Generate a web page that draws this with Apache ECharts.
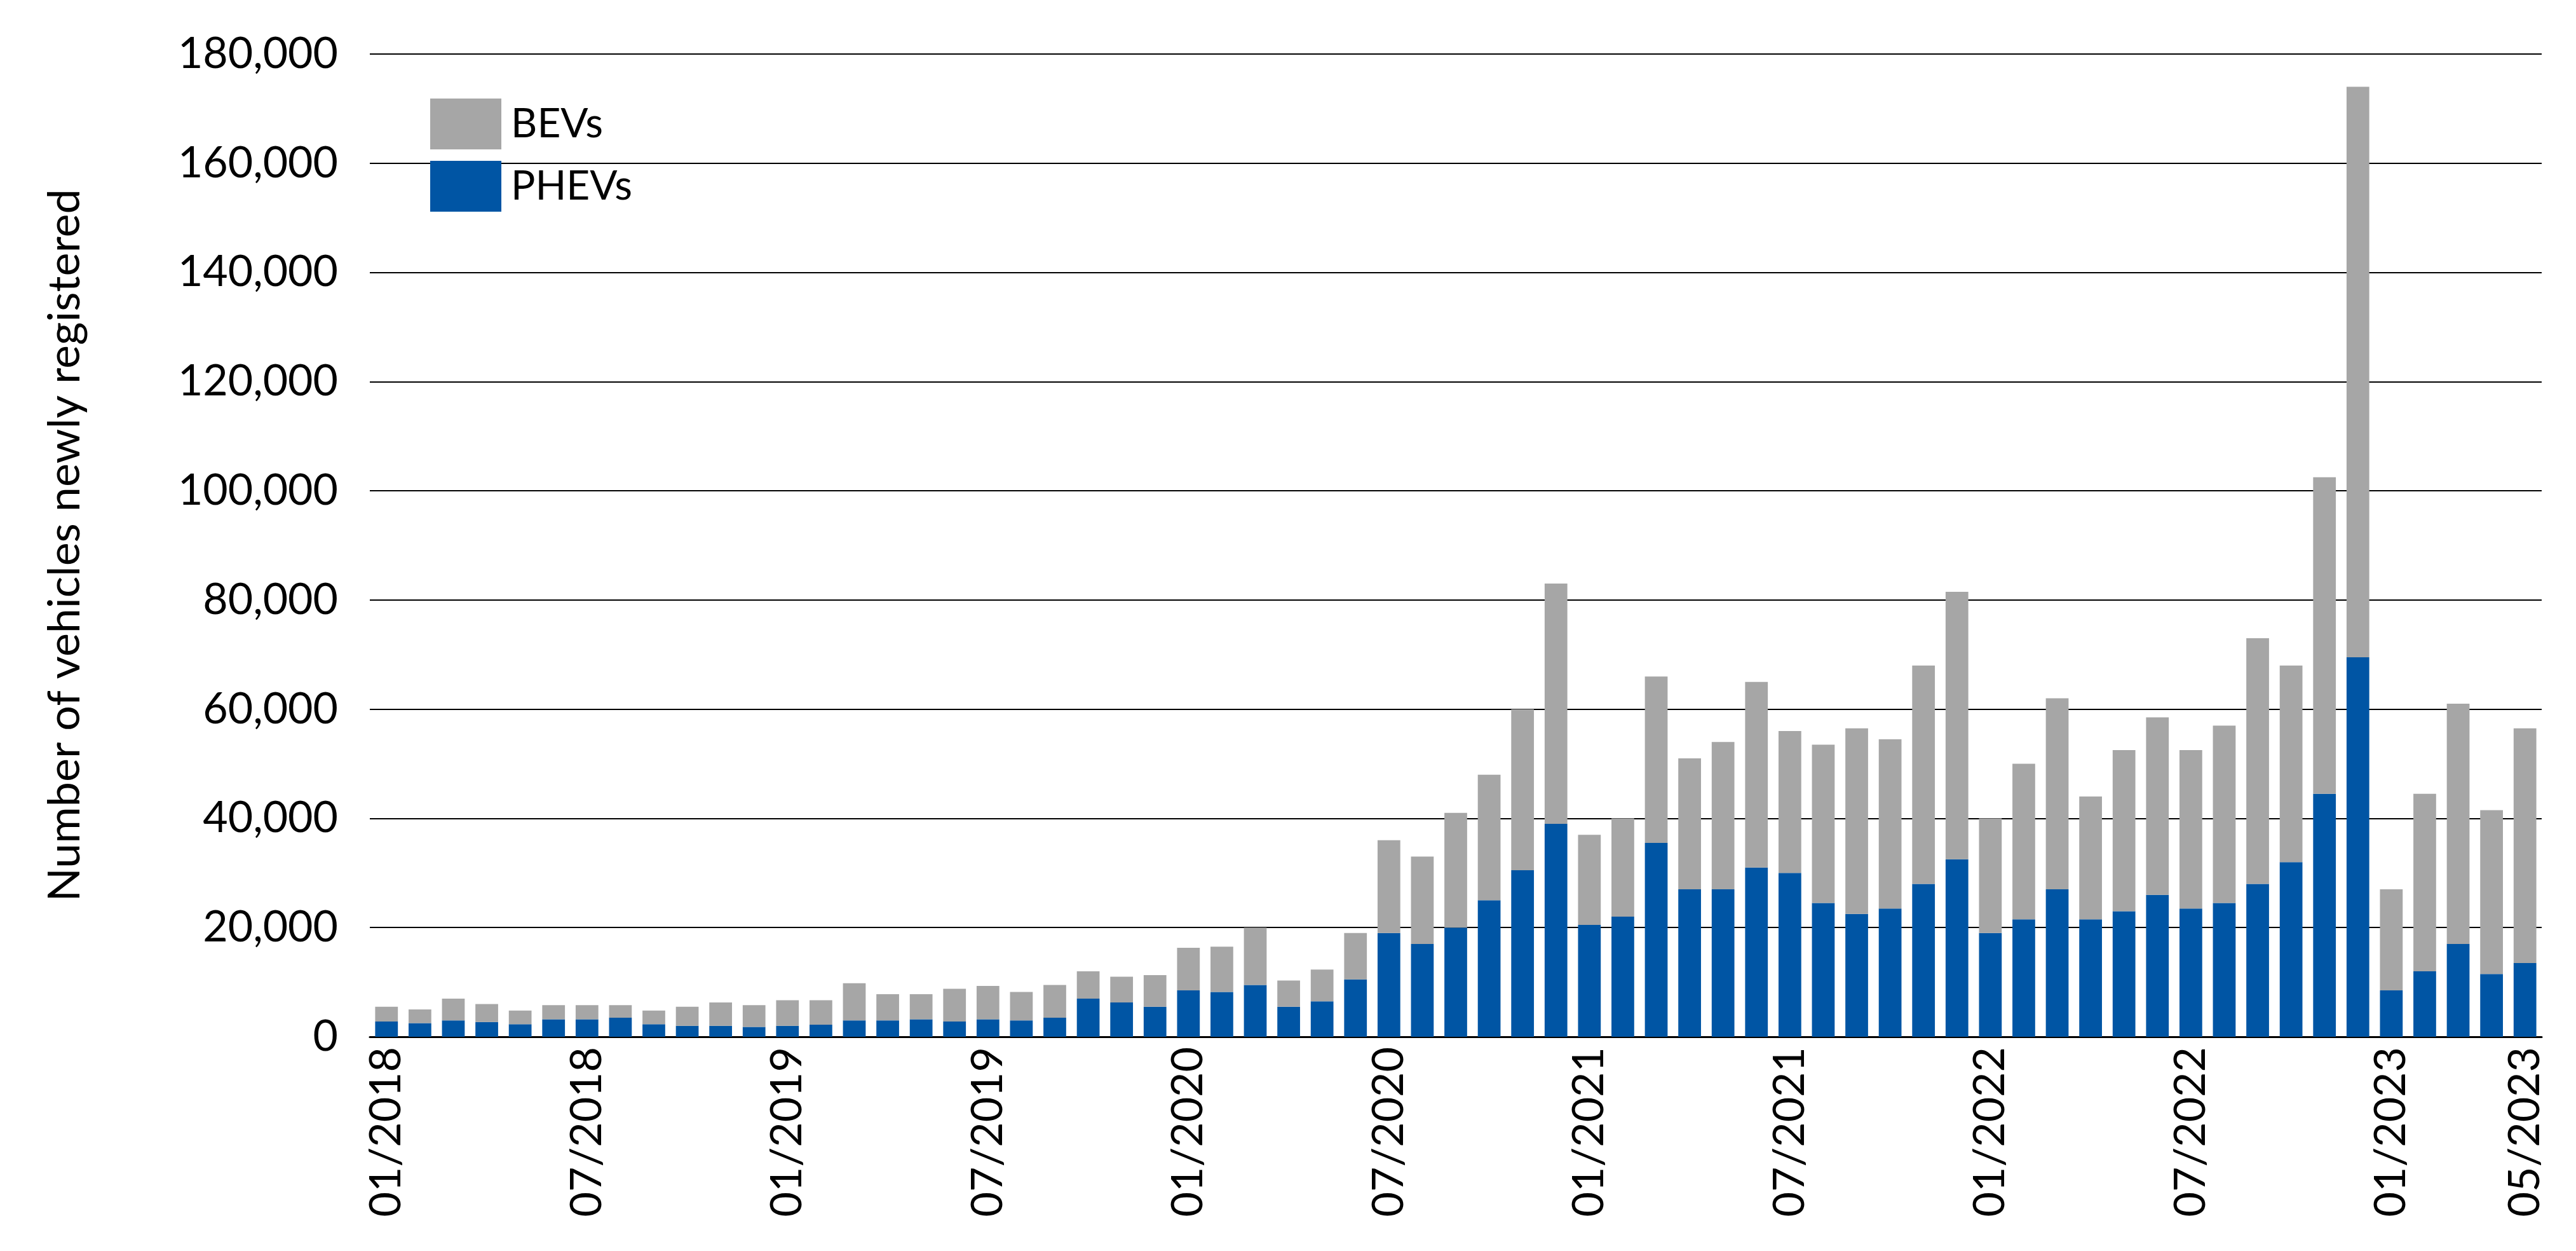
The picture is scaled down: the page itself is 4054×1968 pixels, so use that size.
<!DOCTYPE html>
<html>
<head>
<meta charset="utf-8">
<script src="https://cdn.jsdelivr.net/npm/echarts@6/dist/echarts.min.js"></script>
<style>html,body{margin:0;background:#fff;}#chart{width:4054px;height:1968px;}</style>
</head>
<body>
<div id="chart"></div>
<script>
// monthly registrations 01/2018 - 05/2023
var months = [];
for (var y = 2018; y <= 2023; y++) {
	for (var m = 1; m <= 12; m++) {
		if (y == 2023 && m > 5) break;
		months.push((m < 10 ? '0' + m : m) + '/' + y);
	}
}

var phev = [2800,2500,3000,2700,2300,3200,3200,3500,2300,2000,2000,1800,
	2000,2200,3000,3000,3200,2800,3200,3000,3500,7000,6300,5500,
	8500,8200,9500,5500,6500,10500,19000,17000,20000,25000,30500,39000,
	20500,22000,35500,27000,27000,31000,30000,24500,22500,23500,28000,32500,
	19000,21500,27000,21500,23000,26000,23500,24500,28000,32000,44500,69500,
	8500,12000,17000,11500,13500];

var bev = [2700,2500,4000,3300,2500,2600,2600,2300,2500,3500,4300,4000,
	4700,4500,6800,4800,4600,6000,6100,5200,6000,5000,4700,5800,
	7800,8300,10500,4800,5800,8500,17000,16000,21000,23000,29500,44000,
	16500,18000,30500,24000,27000,34000,26000,29000,34000,31000,40000,49000,
	21000,28500,35000,22500,29500,32500,29000,32500,45000,36000,58000,104500,
	18500,32500,44000,30000,43000];

var font = 'Lato, "Open Sans", sans-serif';

var myChart = echarts.init(document.getElementById('chart'));
myChart.setOption({
	animation: false,
	grid: {left: 582, right: 54, top: 85, bottom: 337},
	legend: {
		left: 672, top: 150, orient: 'vertical', icon: 'rect',
		itemWidth: 112, itemHeight: 80, itemGap: 18,
		textStyle: {fontFamily: font, fontSize: 64, color: '#000', padding: [0, 0, 0, 10]},
		data: ['BEVs', 'PHEVs']
	},
	xAxis: {
		type: 'category',
		data: months,
		axisLine: {lineStyle: {color: '#000', width: 3}},
		axisTick: {show: false},
		axisLabel: {
			rotate: 90, fontFamily: font, fontSize: 68, color: '#000', margin: 16,
			interval: function(i){ return i % 6 == 0 || i == months.length - 1; }
		}
	},
	yAxis: {
		type: 'value', min: 0, max: 180000, interval: 20000,
		name: 'Number of vehicles newly registered',
		nameLocation: 'middle', nameGap: 445,
		nameTextStyle: {fontFamily: font, fontSize: 70, color: '#000'},
		axisLine: {show: false},
		axisTick: {show: false},
		axisLabel: {
			fontFamily: font, fontSize: 68, color: '#000', margin: 50,
			formatter: function(v){ return v.toLocaleString('en-US'); }
		},
		splitLine: {lineStyle: {color: '#000', width: 2}}
	},
	series: [
		{name: 'PHEVs', type: 'bar', stack: 'all', data: phev, barCategoryGap: '32%',
			itemStyle: {color: '#0055A4'}},
		{name: 'BEVs', type: 'bar', stack: 'all', data: bev,
			itemStyle: {color: '#A6A6A6'}}
	]
});
</script>
</body>
</html>
